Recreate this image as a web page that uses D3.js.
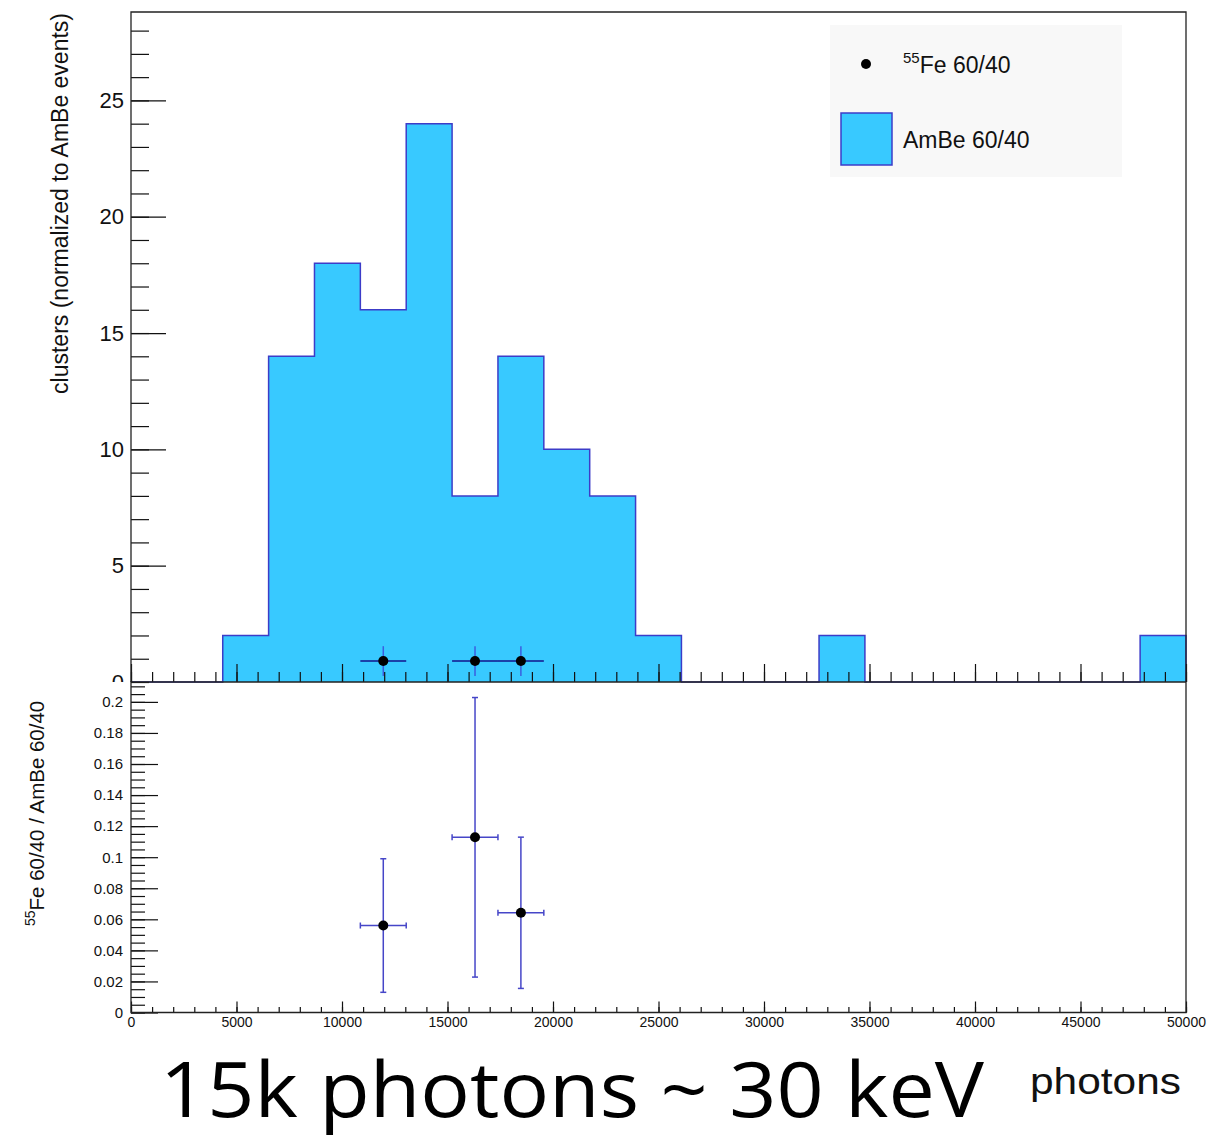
<!DOCTYPE html>
<html>
<head>
<meta charset="utf-8">
<script src="https://cdn.jsdelivr.net/npm/d3@7"></script>
<style>
  html, body { margin: 0; padding: 0; background: #ffffff; }
  svg { display: block; font-family: "Liberation Sans", Arial, Helvetica, sans-serif; }
</style>
</head>
<body>
<svg id="chart" width="1217" height="1139"></svg>
<script>
// ---------------- data ----------------
const xRange = [0, 50000];
const nBins = 23;
const ambeCounts = [0, 0, 2, 14, 18, 16, 24, 8, 14, 10, 8, 2, 0, 0, 0, 2, 0, 0, 0, 0, 0, 0, 2];
const feBinIndex = [5, 7, 8];
const feValues = [0.9, 0.9, 0.9];
const feErrors = [0.64, 0.64, 0.64];
const ratioValues = [0.056, 0.1128, 0.0642];
const ratioErrors = [0.043, 0.090, 0.0487];
const topYTicks = [0, 5, 10, 15, 20, 25];
const botYTicks = [0, 0.02, 0.04, 0.06, 0.08, 0.1, 0.12, 0.14, 0.16, 0.18, 0.2];
const xTicks = [0, 5000, 10000, 15000, 20000, 25000, 30000, 35000, 40000, 45000, 50000];
const legendLabels = ["Fe 60/40", "AmBe 60/40"];
const legendSup = "55";
const topYTitle = "clusters (normalized to AmBe events)";
const botYTitle = ["55", "Fe 60/40 / AmBe 60/40"];
const xTitle = "photons";
const annotation = "15k photons ~ 30 keV";

// ---------------- layout ----------------
const L = 131, R = 1186, T = 12, MID = 682, B = 1012.5;
const fillColor = "#38c9ff", lineColor = "#3c3cc8", errColor = "#4646c8";

const svg = d3.select("#chart");
const x = d3.scaleLinear().domain(xRange).range([L, R]);
const yTop = d3.scaleLinear().domain([0, 28.8]).range([MID, T]);
const yBot = d3.scaleLinear().domain([0, 0.2128]).range([B, MID]);

const binW = (xRange[1] - xRange[0]) / nBins;
const edges = d3.range(nBins + 1).map(i => xRange[0] + i * binW);
const centers = d3.range(nBins).map(i => xRange[0] + (i + 0.5) * binW);

svg.append("clipPath").attr("id", "topclip")
  .append("rect").attr("x", -400).attr("y", 0).attr("width", 2000).attr("height", MID);

// ---------------- top panel ----------------
const topG = svg.append("g");

const pts = [[x(edges[0]), yTop(0)]];
ambeCounts.forEach((v, i) => {
  pts.push([x(edges[i]), yTop(v)]);
  pts.push([x(edges[i + 1]), yTop(v)]);
});
pts.push([x(edges[nBins]), yTop(0)]);
topG.append("path")
  .attr("d", d3.line()(pts))
  .attr("fill", fillColor)
  .attr("stroke", lineColor)
  .attr("stroke-width", 1.5);

const topYMinor = topG.append("g").attr("transform", `translate(${L},0)`)
  .call(d3.axisLeft(yTop).tickValues(d3.range(0, 29, 1)).tickSizeInner(-18).tickSizeOuter(0).tickFormat(""));
const topYMajor = topG.append("g").attr("transform", `translate(${L},0)`)
  .attr("clip-path", "url(#topclip)")
  .call(d3.axisLeft(yTop).tickValues(topYTicks).tickSizeInner(-35).tickSizeOuter(0).tickPadding(7).tickFormat(d3.format("d")));
topYMajor.selectAll("text").attr("font-size", 22).attr("fill", "#111");

const topXMinor = topG.append("g").attr("transform", `translate(0,${MID})`)
  .call(d3.axisBottom(x).tickValues(d3.range(0, 50001, 1000)).tickSizeInner(-10).tickSizeOuter(0).tickFormat(""));
const topXMajor = topG.append("g").attr("transform", `translate(0,${MID})`)
  .call(d3.axisBottom(x).tickValues(xTicks).tickSizeInner(-18).tickSizeOuter(0).tickFormat(""));

[topYMinor, topYMajor, topXMinor, topXMajor].forEach(g => {
  g.select(".domain").remove();
  g.selectAll("line").attr("stroke", "#111").attr("stroke-width", 1.2);
});

feBinIndex.forEach((b, i) => {
  const cx = x(centers[b]), cy = yTop(feValues[i]);
  topG.append("line").attr("x1", x(edges[b])).attr("x2", x(edges[b + 1]))
    .attr("y1", cy).attr("y2", cy).attr("stroke", "#12128c").attr("stroke-width", 1.5);
  topG.append("line").attr("x1", cx).attr("x2", cx)
    .attr("y1", yTop(feValues[i] + feErrors[i])).attr("y2", yTop(feValues[i] - feErrors[i]))
    .attr("stroke", "#3a5ee0").attr("stroke-width", 1.5);
  topG.append("circle").attr("cx", cx).attr("cy", cy).attr("r", 5).attr("fill", "#000");
});

topG.append("path")
  .attr("d", `M${L},${MID}V${T}H${R}V${MID}`)
  .attr("fill", "none").attr("stroke", "#222").attr("stroke-width", 1.3);

// legend
const leg = svg.append("g");
leg.append("rect").attr("x", 830).attr("y", 25).attr("width", 292).attr("height", 152).attr("fill", "#f8f8f8");
leg.append("circle").attr("cx", 866).attr("cy", 64).attr("r", 5).attr("fill", "#000");
const lt1 = leg.append("text").attr("x", 903).attr("y", 73).attr("font-size", 23).attr("fill", "#111");
lt1.append("tspan").attr("font-size", 15).attr("dy", -10).text(legendSup);
lt1.append("tspan").attr("dy", 10).text(legendLabels[0]);
leg.append("rect").attr("x", 841).attr("y", 113).attr("width", 51).attr("height", 52)
  .attr("fill", fillColor).attr("stroke", lineColor).attr("stroke-width", 1.5);
leg.append("text").attr("x", 903).attr("y", 148).attr("font-size", 23).attr("fill", "#111").text(legendLabels[1]);

svg.append("text")
  .attr("transform", `translate(68,13) rotate(-90)`)
  .attr("text-anchor", "end")
  .attr("font-size", 23).attr("fill", "#111")
  .text(topYTitle);

// ---------------- bottom panel ----------------
const botG = svg.append("g");

const botYMinor = botG.append("g").attr("transform", `translate(${L},0)`)
  .call(d3.axisLeft(yBot).tickValues(d3.range(0, 0.2126, 0.005)).tickSizeInner(-14).tickSizeOuter(0).tickFormat(""));
const botYMajor = botG.append("g").attr("transform", `translate(${L},0)`)
  .call(d3.axisLeft(yBot).tickValues(botYTicks).tickSizeInner(-27).tickSizeOuter(0).tickPadding(8)
    .tickFormat(d => d === 0 ? "0" : d3.format("~g")(+d.toFixed(2))));
botYMajor.selectAll("text").attr("font-size", 15).attr("fill", "#111");

const botXMinor = botG.append("g").attr("transform", `translate(0,${B})`)
  .call(d3.axisBottom(x).tickValues(d3.range(0, 50001, 1000)).tickSizeInner(-5.5).tickSizeOuter(0).tickFormat(""));
const botXMajor = botG.append("g").attr("transform", `translate(0,${B})`)
  .call(d3.axisBottom(x).tickValues(xTicks).tickSizeInner(-11).tickSizeOuter(0).tickPadding(4).tickFormat(d3.format("d")));
botXMajor.selectAll("text").attr("font-size", 14).attr("fill", "#111").attr("dy", "0.71em").attr("y", 5);

[botYMinor, botYMajor, botXMinor, botXMajor].forEach(g => {
  g.select(".domain").remove();
  g.selectAll("line").attr("stroke", "#111").attr("stroke-width", 1.2);
});

const cap = 3;
feBinIndex.forEach((b, i) => {
  const cx = x(centers[b]), cy = yBot(ratioValues[i]);
  const x0 = x(edges[b]), x1 = x(edges[b + 1]);
  const yHi = yBot(ratioValues[i] + ratioErrors[i]), yLo = yBot(ratioValues[i] - ratioErrors[i]);
  const g = botG.append("g").attr("stroke", errColor).attr("stroke-width", 1.5);
  g.append("line").attr("x1", x0).attr("x2", x1).attr("y1", cy).attr("y2", cy);
  g.append("line").attr("x1", cx).attr("x2", cx).attr("y1", yHi).attr("y2", yLo);
  g.append("line").attr("x1", x0).attr("x2", x0).attr("y1", cy - cap).attr("y2", cy + cap);
  g.append("line").attr("x1", x1).attr("x2", x1).attr("y1", cy - cap).attr("y2", cy + cap);
  g.append("line").attr("x1", cx - cap).attr("x2", cx + cap).attr("y1", yHi).attr("y2", yHi);
  g.append("line").attr("x1", cx - cap).attr("x2", cx + cap).attr("y1", yLo).attr("y2", yLo);
  botG.append("circle").attr("cx", cx).attr("cy", cy).attr("r", 5).attr("fill", "#000");
});

// bottom frame (its top edge is the shared x axis line of the top panel)
botG.append("path")
  .attr("d", `M${R},${MID}H${L}V${B}H${R}V${MID}`)
  .attr("fill", "none").attr("stroke", "#222").attr("stroke-width", 1.3);

const bt = svg.append("text")
  .attr("transform", `translate(44,926) rotate(-90)`)
  .attr("font-size", 20.5).attr("fill", "#111");
bt.append("tspan").attr("font-size", 14).attr("dy", -9).text(botYTitle[0]);
bt.append("tspan").attr("dy", 9).text(botYTitle[1]);

svg.append("text")
  .attr("x", 1030).attr("y", 1094)
  .attr("font-size", 37).attr("fill", "#111")
  .attr("textLength", 151).attr("lengthAdjust", "spacingAndGlyphs")
  .text(xTitle);

svg.append("text")
  .attr("x", 160).attr("y", 1117)
  .attr("font-family", "'Open Sans', 'Noto Sans', sans-serif")
  .attr("font-size", 76).attr("fill", "#000")
  .attr("textLength", 824).attr("lengthAdjust", "spacingAndGlyphs")
  .text(annotation);
</script>
</body>
</html>
